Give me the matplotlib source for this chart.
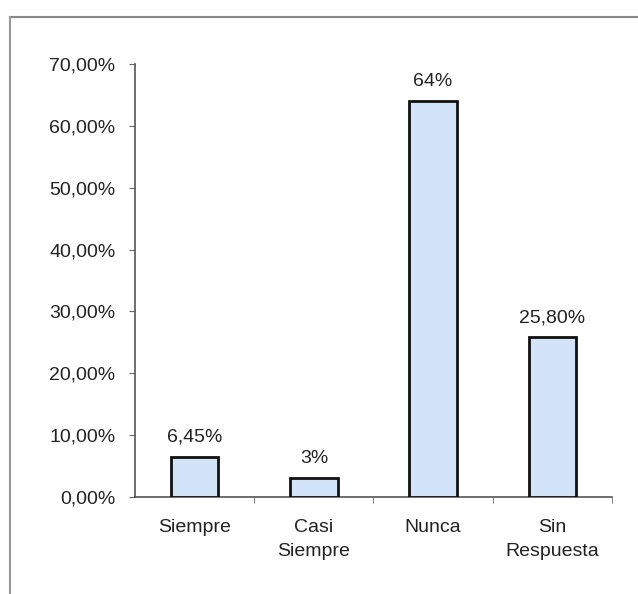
import matplotlib.pyplot as plt
from matplotlib.lines import Line2D

# response categories and their share of answers (%)
categorias = ["Siempre", "Casi\nSiempre", "Nunca", "Sin\nRespuesta"]
porcentajes = [6.45, 3, 64, 25.8]
etiquetas = ["6,45%", "3%", "64%", "25,80%"]
yticks = [0, 10, 20, 30, 40, 50, 60, 70]

plt.rcParams['font.family'] = ['Liberation Sans', 'DejaVu Sans']

fig = plt.figure(figsize=(6.38, 5.94), dpi=100)
ax = fig.add_axes([0.2116, 0.1633, 0.7476, 0.729])

x = range(len(categorias))
barras = ax.bar(x, porcentajes, width=0.4, color='#d3e3f8',
                edgecolor='#111111', linewidth=2, zorder=3)

for b, txt in zip(barras, etiquetas):
    ax.annotate(txt, (b.get_x() + b.get_width() / 2, b.get_height()),
                xytext=(0, 8), textcoords='offset points',
                ha='center', va='bottom', fontsize=14, color='#222222')

ax.set_xlim(-0.5, 3.5)
ax.set_ylim(0, 70)
ax.set_yticks(yticks)
ax.set_yticklabels([f"{v},00%" for v in yticks], fontsize=14, color='#222222')
ax.set_xticks(list(x))
ax.set_xticklabels(categorias, fontsize=14, color='#222222', linespacing=1.5)
ax.set_xticks([0.5, 1.5, 2.5, 3.5], minor=True)
ax.tick_params(axis='x', which='major', length=0, pad=16)
ax.tick_params(axis='x', which='minor', length=4, color='#666666')
ax.tick_params(axis='y', length=4, color='#666666', pad=10)

for s in ['top', 'right']:
    ax.spines[s].set_visible(False)
for s in ['left', 'bottom']:
    ax.spines[s].set_color('#555555')
    ax.spines[s].set_linewidth(1.2)

# outer frame of the chart area
fig.add_artist(Line2D([0.0157, 1.0], [0.971, 0.971], color='#888888', lw=1.5))
fig.add_artist(Line2D([0.0157, 0.0157], [0.0, 0.971], color='#999999', lw=1.5))

fig.savefig('out.png', dpi=100)
